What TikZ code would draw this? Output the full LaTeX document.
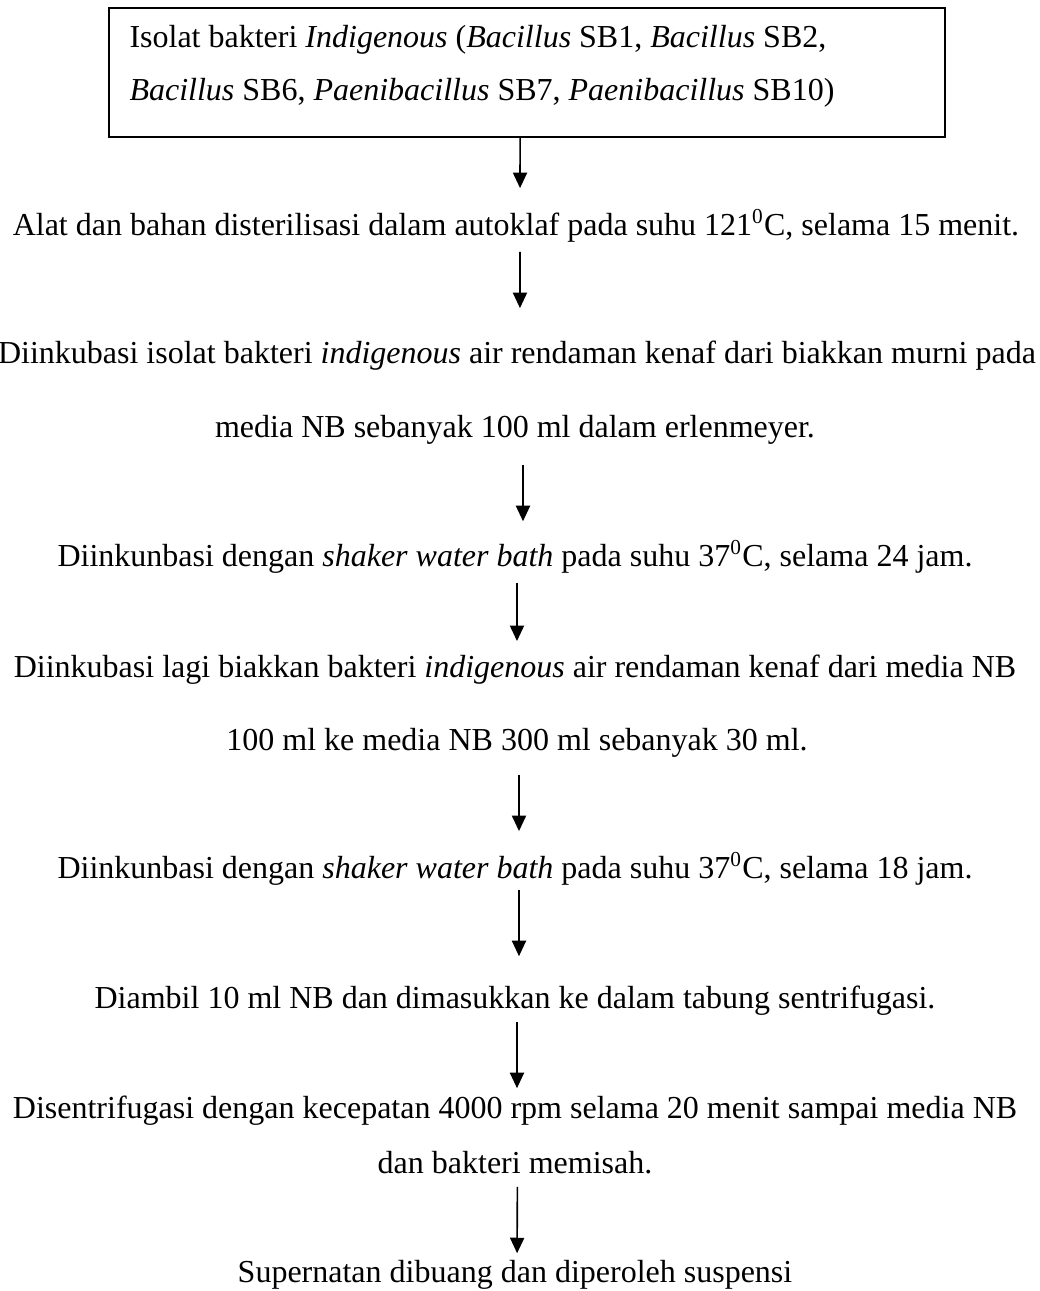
\documentclass[tikz,border=0pt]{standalone}
\usepackage{fontspec}
\setmainfont{Liberation Serif}
\usetikzlibrary{arrows.meta}
\tikzset{
  txt/.style={inner sep=0pt, text height=0pt, text depth=0pt, anchor=base, font=\fontsize{12pt}{14pt}\selectfont},
  boxtxt/.style={txt, anchor=base west},
  frame/.style={draw, line width=0.75pt, minimum width=313.5pt, minimum height=48.4pt, inner sep=0pt},
  arr/.style={line width=0.6pt, -{Triangle[width=5.3pt,length=5.8pt]}}
}
\begin{document}
\begin{tikzpicture}[x=0.375pt,y=-0.375pt]
\useasboundingbox (0,0) rectangle (1040,1291);
\node[frame] (box) at (527,72.5) {};
\node[boxtxt] (b1) at (129,47) {Isolat bakteri \textit{Indigenous} (\textit{Bacillus} SB1, \textit{Bacillus} SB2,};
\node[boxtxt] (b2) at (129,100) {\textit{Bacillus} SB6, \textit{Paenibacillus} SB7, \textit{Paenibacillus} SB10)};
\node[txt] (t1) at (516,235) {Alat dan bahan disterilisasi dalam autoklaf pada suhu 121\textsuperscript{0}C, selama 15 menit.};
\node[txt] (t2a) at (517,363) {Diinkubasi isolat bakteri \textit{indigenous} air rendaman kenaf dari biakkan murni pada};
\node[txt] (t2b) at (515,437) {media NB sebanyak 100 ml dalam erlenmeyer.};
\node[txt] (t3) at (515,566) {Diinkunbasi dengan \textit{shaker water bath} pada suhu 37\textsuperscript{0}C, selama 24 jam.};
\node[txt] (t4a) at (515,677) {Diinkubasi lagi biakkan bakteri \textit{indigenous} air rendaman kenaf dari media NB};
\node[txt] (t4b) at (517,750) {100 ml ke media NB 300 ml sebanyak 30 ml.};
\node[txt] (t5) at (515,878) {Diinkunbasi dengan \textit{shaker water bath} pada suhu 37\textsuperscript{0}C, selama 18 jam.};
\node[txt] (t6) at (515,1008) {Diambil 10 ml NB dan dimasukkan ke dalam tabung sentrifugasi.};
\node[txt] (t7a) at (515,1118) {Disentrifugasi dengan kecepatan 4000 rpm selama 20 menit sampai media NB};
\node[txt] (t7b) at (515,1173) {dan bakteri memisah.};
\node[txt] (t8) at (515,1282) {Supernatan dibuang dan diperoleh suspensi};
% arrows
\draw[arr, shorten >=16.9pt] ([xshift=-2.6pt]box.south) -- ([xshift=1.5pt]t1.north);
\draw[arr, shorten <=5.6pt, shorten >=19.9pt] ([xshift=1.5pt]t1.south) -- ([xshift=1.1pt]t2a.north);
\draw[arr, shorten <=9.75pt, shorten >=16.1pt] ([xshift=3pt]t2b.south) -- ([xshift=3pt]t3.north);
\draw[arr, shorten <=5.6pt, shorten >=12.8pt] ([xshift=0.75pt]t3.south) -- ([xshift=0.75pt]t4a.north);
\draw[arr, shorten <=8.6pt, shorten >=16.9pt] ([xshift=0.75pt]t4b.south) -- ([xshift=1.5pt]t5.north);
\draw[arr, shorten <=3.75pt, shorten >=18.75pt] ([xshift=1.5pt]t5.south) -- ([xshift=1.5pt]t6.north);
\draw[arr, shorten <=4.5pt, shorten >=10.5pt] ([xshift=0.75pt]t6.south) -- ([xshift=0.75pt]t7a.north);
\draw[arr, shorten <=4.5pt, shorten >=10.1pt] ([xshift=0.9pt]t7b.south) -- ([xshift=0.75pt]t8.north);
\end{tikzpicture}
\end{document}
